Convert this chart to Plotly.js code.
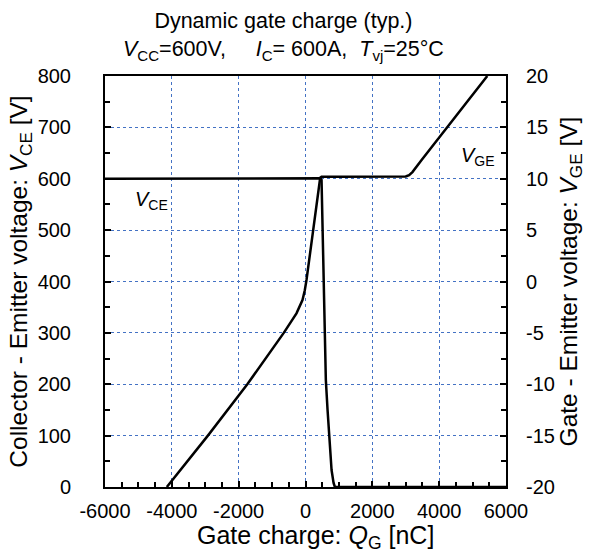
<!DOCTYPE html>
<html>
<head>
<meta charset="utf-8">
<script src="https://cdn.plot.ly/plotly-3.0.1.min.js"></script>
<style>html,body{margin:0;padding:0;background:#fff;}#chart{width:593px;height:553px;}</style>
</head>
<body>
<div id="chart"></div>
<script>
// Gate charge (nC) and collector-emitter voltage (V)
const qCE = [-6000, 400, 450, 480, 520, 558, 609, 660, 708, 780, 840, 880, 6000];
const vCE = [600, 600, 601, 598, 460, 325, 208, 150, 100, 33, 8, 0, 0];
// Gate charge (nC) and gate-emitter voltage (V)
const qGE = [-4150, -2921, -1741, -651, -270, -90, -21, 30, 440, 480, 1000, 2000, 2900, 3000, 3100, 3200, 3480, 4239, 5440];
const vGE = [-20, -15, -10, -5, -3.1, -1.8, -0.85, 0.15, 10.1, 10.2, 10.2, 10.2, 10.2, 10.22, 10.35, 10.65, 11.84, 15, 20];

const xTickVals = [-6000, -4000, -2000, 0, 2000, 4000, 6000];
const xTickText = ["-6000", "-4000", "-2000", "0", "2000", "4000", "6000"];
const yTickVals = [0, 100, 200, 300, 400, 500, 600, 700, 800];
const yTickText = ["0", "100", "200", "300", "400", "500", "600", "700", "800"];
const y2TickVals = [-20, -15, -10, -5, 0, 5, 10, 15, 20];
const y2TickText = ["-20", "-15", "-10", "-5", "0", "5", "10", "15", "20"];

const FONT = "Liberation Sans, Arial, sans-serif";
const GRID = "#4472C4";
const NB = "\u00a0";

const traces = [
  {x: qCE, y: vCE, mode: "lines", line: {color: "black", width: 2.5}, yaxis: "y", hoverinfo: "skip"},
  {x: qGE, y: vGE, mode: "lines", line: {color: "black", width: 2.5}, yaxis: "y2", hoverinfo: "skip"}
];

const layout = {
  width: 593, height: 553,
  margin: {l: 105, r: 87, t: 76, b: 66},
  paper_bgcolor: "white", plot_bgcolor: "white",
  showlegend: false,
  font: {family: FONT, size: 20, color: "black"},
  title: {
    text: "Dynamic gate charge (typ.)<br><i>V</i><sub>CC</sub>=600V," + NB.repeat(5) + "<i>I</i><sub>C</sub>= 600A," + NB.repeat(2) + "<i>T</i><sub>vj</sub>=25°C",
    font: {family: FONT, size: 21.5, color: "black"},
    x: 0.478, xanchor: "center", xref: "container",
    y: 0.949, yanchor: "top", yref: "container"
  },
  xaxis: {
    range: [-6000, 6000], tickvals: xTickVals, ticktext: xTickText,
    ticks: "inside", ticklen: 6, tickwidth: 2, tickcolor: "black",
    minor: {dtick: 500, tick0: 0, ticks: "inside", ticklen: 5, tickwidth: 2, tickcolor: "black", showgrid: false},
    showline: true, linewidth: 2, linecolor: "black", mirror: true,
    showgrid: true, gridcolor: GRID, gridwidth: 1, griddash: "dot",
    zeroline: false, ticklabelstandoff: 5,
    tickfont: {family: FONT, size: 20}
  },
  yaxis: {
    range: [0, 800], tickvals: yTickVals, ticktext: yTickText,
    ticks: "inside", ticklen: 6, tickwidth: 2, tickcolor: "black",
    minor: {dtick: 50, tick0: 0, ticks: "inside", ticklen: 5, tickwidth: 2, tickcolor: "black", showgrid: false},
    showline: true, linewidth: 2, linecolor: "black",
    showgrid: true, gridcolor: GRID, gridwidth: 1, griddash: "dot",
    zeroline: false, ticklabelstandoff: 28,
    tickfont: {family: FONT, size: 20},
    title: {text: "Collector - Emitter voltage: <i>V</i><sub>CE</sub> [V]", font: {family: FONT, size: 24.5}, standoff: 3}
  },
  yaxis2: {
    range: [-20, 20], tickvals: y2TickVals, ticktext: y2TickText,
    overlaying: "y", side: "right", anchor: "x",
    ticks: "inside", ticklen: 6, tickwidth: 2, tickcolor: "black",
    minor: {dtick: 2.5, tick0: 0, ticks: "inside", ticklen: 5, tickwidth: 2, tickcolor: "black", showgrid: false},
    showline: true, linewidth: 2, linecolor: "black",
    showgrid: false, zeroline: false, ticklabelstandoff: 14,
    tickfont: {family: FONT, size: 20},
    title: {text: "Gate - Emitter voltage: <i>V</i><sub>GE</sub> [V]", font: {family: FONT, size: 24.5}, standoff: 6}
  },
  annotations: [
    {text: "Gate charge: <i>Q</i><sub>G</sub> [nC]", xref: "paper", yref: "paper", x: 0.526, y: -0.122, xanchor: "center", yanchor: "middle", showarrow: false, font: {family: FONT, size: 25, color: "black"}},
    {text: "<i>V</i><sub>CE</sub>", xref: "paper", yref: "paper", x: 0.07, y: 0.732, showarrow: false, font: {family: FONT, size: 20, color: "black"}},
    {text: "<i>V</i><sub>GE</sub>", xref: "paper", yref: "paper", x: 0.977, y: 0.84, showarrow: false, font: {family: FONT, size: 20, color: "black"}}
  ]
};

Plotly.newPlot("chart", traces, layout, {staticPlot: true, displayModeBar: false});
</script>
</body>
</html>
